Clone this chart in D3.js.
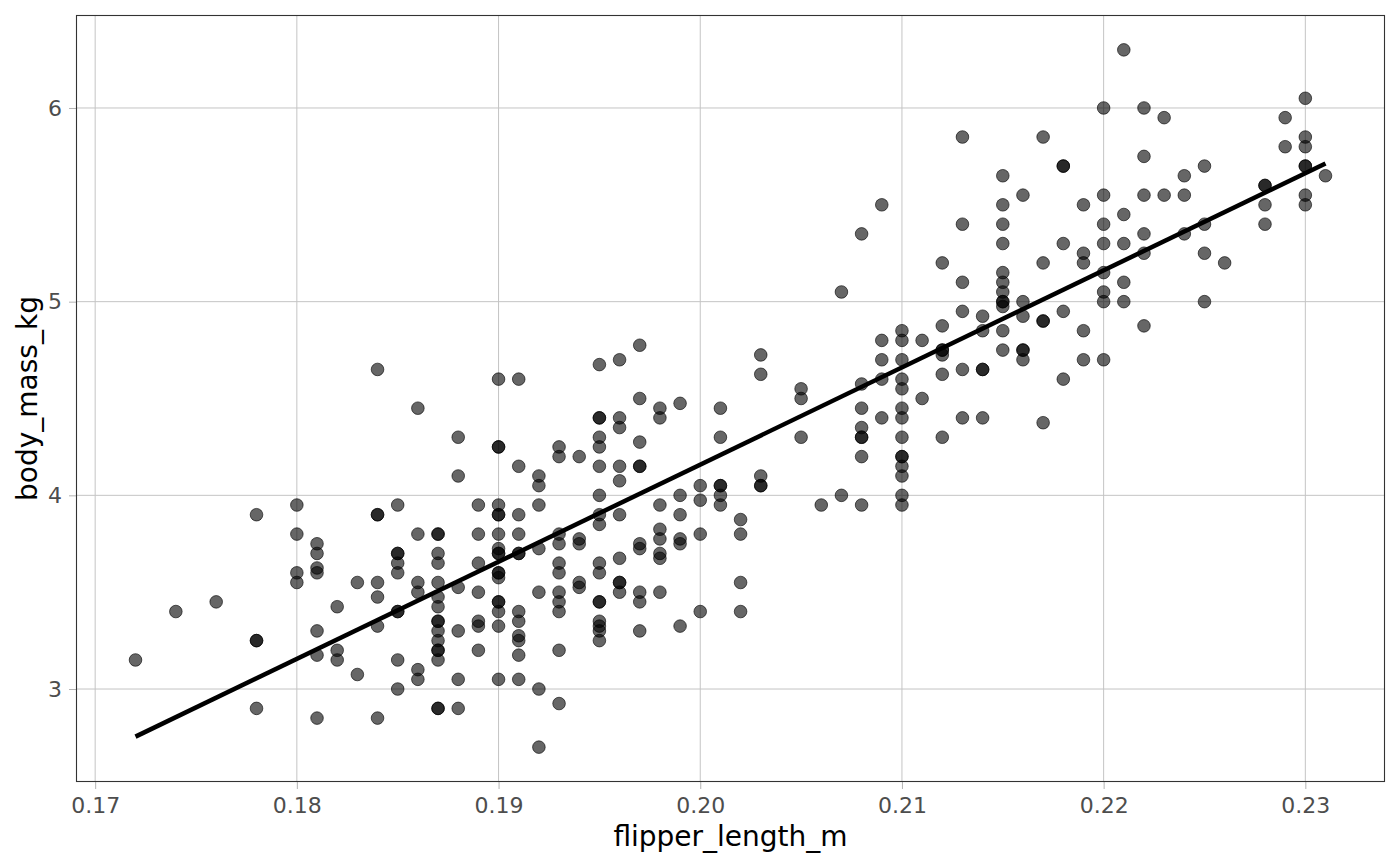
<!DOCTYPE html>
<html>
<head>
<meta charset="utf-8">
<script src="https://cdn.jsdelivr.net/npm/d3@7"></script>
<style>
  body { margin: 0; background: #fff; }
  svg { display: block; font-family: "DejaVu Sans", sans-serif; }
</style>
</head>
<body>
<svg id="chart" width="1400" height="866"></svg>
<script>
// flipper length (m) of each column of points
var flipperLength = [0.172, 0.174, 0.176, 0.178, 0.180, 0.181, 0.182, 0.183, 0.184, 0.185,
  0.186, 0.187, 0.188, 0.189, 0.190, 0.191, 0.192, 0.193, 0.194, 0.195,
  0.196, 0.197, 0.198, 0.199, 0.200, 0.201, 0.202, 0.203, 0.205, 0.206,
  0.207, 0.208, 0.209, 0.210, 0.211, 0.212, 0.213, 0.214, 0.215, 0.216,
  0.217, 0.218, 0.219, 0.220, 0.221, 0.222, 0.223, 0.224, 0.225, 0.226,
  0.228, 0.229, 0.230, 0.231];

// body mass (kg) of the penguins in each column, same order as above
var bodyMass = [
  [3.15],
  [3.4],
  [3.45],
  [3.9, 3.25, 3.25, 2.9],
  [3.95, 3.8, 3.6, 3.55],
  [3.75, 3.7, 3.625, 3.6, 3.3, 3.175, 2.85],
  [3.425, 3.2, 3.15],
  [3.55, 3.075],
  [4.65, 3.9, 3.9, 3.55, 3.475, 3.325, 2.85],
  [3.95, 3.7, 3.7, 3.65, 3.6, 3.4, 3.4, 3.15, 3.0],
  [4.45, 3.8, 3.55, 3.5, 3.1, 3.05],
  [3.8, 3.8, 3.7, 3.65, 3.55, 3.475, 3.425, 3.35, 3.35, 3.3, 3.25, 3.2, 3.2, 3.15, 2.9, 2.9],
  [4.3, 4.1, 3.525, 3.3, 3.05, 2.9],
  [3.95, 3.8, 3.65, 3.5, 3.35, 3.325, 3.2],
  [4.6, 4.25, 4.25, 3.95, 3.9, 3.9, 3.8, 3.725, 3.7, 3.7, 3.6, 3.6, 3.575, 3.45, 3.45, 3.4, 3.325, 3.05],
  [4.6, 4.15, 3.9, 3.8, 3.7, 3.7, 3.4, 3.35, 3.275, 3.25, 3.175, 3.05],
  [4.1, 4.05, 3.95, 3.725, 3.5, 3.0, 2.7],
  [4.25, 4.2, 3.8, 3.75, 3.65, 3.6, 3.5, 3.45, 3.4, 3.2, 2.925],
  [4.2, 3.775, 3.75, 3.55, 3.525],
  [4.675, 4.4, 4.4, 4.3, 4.25, 4.15, 4.0, 3.9, 3.85, 3.65, 3.6, 3.45, 3.45, 3.35, 3.325, 3.3, 3.25],
  [4.7, 4.4, 4.35, 4.15, 4.075, 3.9, 3.675, 3.55, 3.55, 3.5],
  [4.775, 4.5, 4.275, 4.15, 4.15, 3.75, 3.725, 3.5, 3.45, 3.3],
  [4.45, 4.4, 3.95, 3.825, 3.775, 3.7, 3.675, 3.5],
  [4.475, 4.0, 3.9, 3.775, 3.75, 3.325],
  [4.05, 3.975, 3.8, 3.4],
  [4.45, 4.3, 4.05, 4.05, 4.0, 3.95],
  [3.875, 3.8, 3.55, 3.4],
  [4.725, 4.625, 4.1, 4.05, 4.05],
  [4.55, 4.5, 4.3],
  [3.95],
  [5.05, 4.0],
  [5.35, 4.575, 4.45, 4.35, 4.3, 4.3, 4.2, 3.95],
  [5.5, 4.8, 4.7, 4.6, 4.4],
  [4.85, 4.8, 4.7, 4.6, 4.55, 4.45, 4.4, 4.3, 4.2, 4.2, 4.15, 4.1, 4.0, 3.95],
  [4.8, 4.5],
  [5.2, 4.875, 4.75, 4.75, 4.725, 4.625, 4.3],
  [5.85, 5.4, 5.1, 4.95, 4.65, 4.4],
  [4.925, 4.85, 4.65, 4.65, 4.4],
  [5.65, 5.5, 5.4, 5.3, 5.15, 5.1, 5.05, 5.0, 5.0, 4.975, 4.85, 4.75],
  [5.55, 5.0, 4.925, 4.75, 4.75, 4.7],
  [5.85, 5.2, 4.9, 4.9, 4.375],
  [5.7, 5.7, 5.3, 4.95, 4.6],
  [5.5, 5.25, 5.2, 4.85, 4.7],
  [6.0, 5.55, 5.4, 5.3, 5.15, 5.05, 5.0, 4.7],
  [6.3, 5.45, 5.3, 5.1, 5.0],
  [6.0, 5.75, 5.55, 5.35, 5.25, 4.875],
  [5.95, 5.55],
  [5.65, 5.55, 5.35],
  [5.7, 5.4, 5.25, 5.0],
  [5.2],
  [5.6, 5.6, 5.5, 5.4],
  [5.95, 5.8],
  [6.05, 5.85, 5.8, 5.7, 5.7, 5.55, 5.5],
  [5.65]
];

var xTicks = [0.17, 0.18, 0.19, 0.20, 0.21, 0.22, 0.23];
var yTicks = [3, 4, 5, 6];

var svg = d3.select('#chart');
var margin = { top: 15, right: 15, bottom: 84, left: 76 },
    width = 1400 - margin.left - margin.right,
    height = 866 - margin.top - margin.bottom;

var points = [];
flipperLength.forEach(function(f, i) {
  bodyMass[i].forEach(function(m) {
    points.push({ x: f, y: m });
  });
});

// ggplot-style 5% expansion
var xExt = d3.extent(points, function(d) { return d.x; }),
    yExt = d3.extent(points, function(d) { return d.y; });
var xPad = (xExt[1] - xExt[0]) * 0.05,
    yPad = (yExt[1] - yExt[0]) * 0.05;

var x = d3.scaleLinear()
  .domain([xExt[0] - xPad, xExt[1] + xPad])
  .range([0, width]);
var y = d3.scaleLinear()
  .domain([yExt[0] - yPad, yExt[1] + yPad])
  .range([height, 0]);

var g = svg.append('g')
  .attr('transform', 'translate(' + margin.left + ',' + margin.top + ')');

// grid
g.append('g').selectAll('line')
  .data(xTicks)
  .enter().append('line')
    .attr('x1', function(d) { return x(d); })
    .attr('x2', function(d) { return x(d); })
    .attr('y1', 0)
    .attr('y2', height)
    .attr('stroke', '#c4c4c4')
    .attr('stroke-width', 1);
g.append('g').selectAll('line')
  .data(yTicks)
  .enter().append('line')
    .attr('x1', 0)
    .attr('x2', width)
    .attr('y1', function(d) { return y(d); })
    .attr('y2', function(d) { return y(d); })
    .attr('stroke', '#c4c4c4')
    .attr('stroke-width', 1);

// axes
var xAxis = g.append('g')
  .attr('transform', 'translate(0,' + height + ')')
  .call(d3.axisBottom(x).tickValues(xTicks).tickFormat(d3.format('.2f')).tickSize(7).tickPadding(8));
var yAxis = g.append('g')
  .call(d3.axisLeft(y).tickValues(yTicks).tickFormat(d3.format('d')).tickSize(7).tickPadding(7));

[xAxis, yAxis].forEach(function(ax) {
  ax.select('.domain').remove();
  ax.selectAll('.tick line').attr('stroke', '#b3b3b3');
  ax.selectAll('.tick text')
    .attr('fill', '#4d4d4d')
    .style('font-size', '22px')
    .style('font-family', '"DejaVu Sans", sans-serif');
});

// panel border
g.append('rect')
  .attr('x', 0.5)
  .attr('y', 0.5)
  .attr('width', width - 1)
  .attr('height', height - 1)
  .attr('fill', 'none')
  .attr('stroke', '#333333')
  .attr('stroke-width', 1.1);

// points
g.append('g').selectAll('circle')
  .data(points)
  .enter().append('circle')
    .attr('cx', function(d) { return x(d.x); })
    .attr('cy', function(d) { return y(d.y); })
    .attr('r', 6.3)
    .attr('fill', '#000')
    .attr('fill-opacity', 0.6)
    .attr('stroke', '#000')
    .attr('stroke-opacity', 0.6)
    .attr('stroke-width', 1);

// least squares fit
var mx = d3.mean(points, function(d) { return d.x; }),
    my = d3.mean(points, function(d) { return d.y; });
var sxy = d3.sum(points, function(d) { return (d.x - mx) * (d.y - my); }),
    sxx = d3.sum(points, function(d) { return (d.x - mx) * (d.x - mx); });
var slope = sxy / sxx,
    intercept = my - slope * mx;

var line = d3.line()
  .x(function(d) { return x(d); })
  .y(function(d) { return y(intercept + slope * d); });

g.append('path')
  .datum(xExt)
  .attr('d', line)
  .attr('fill', 'none')
  .attr('stroke', '#000')
  .attr('stroke-width', 4.5);

// axis titles
svg.append('text')
  .attr('x', margin.left + width / 2)
  .attr('y', 846)
  .attr('text-anchor', 'middle')
  .attr('fill', '#000')
  .style('font-size', '28px')
  .text('flipper_length_m');

svg.append('text')
  .attr('transform', 'translate(37,' + (margin.top + height / 2) + ') rotate(-90)')
  .attr('text-anchor', 'middle')
  .attr('fill', '#000')
  .style('font-size', '28px')
  .text('body_mass_kg');
</script>
</body>
</html>
